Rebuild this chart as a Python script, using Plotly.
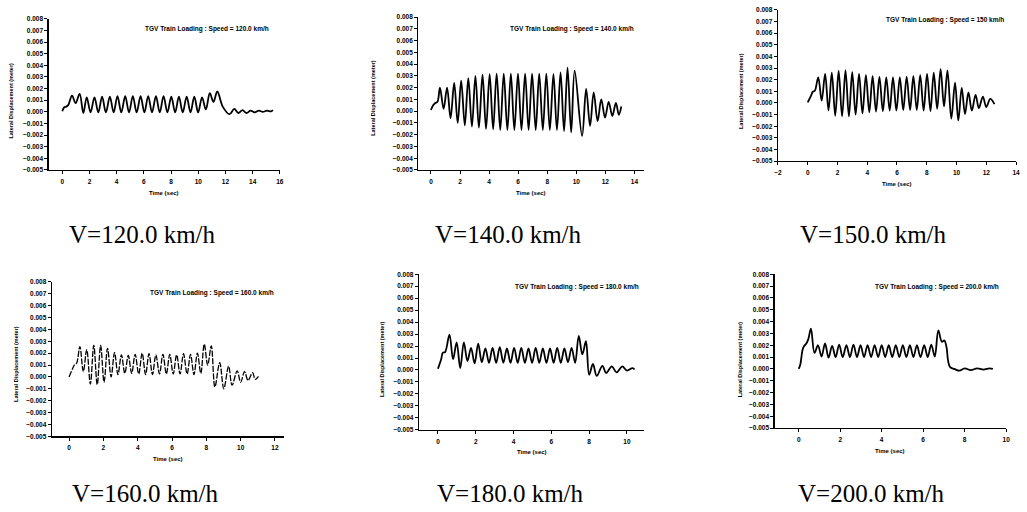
import plotly.graph_objects as go

W, H = 1027, 512

# ---------------- data (time in s, lateral displacement in mm) ----------------
t120 = [0.00, 0.15, 0.30, 0.45, 0.72, 0.98, 1.28, 1.55,
        1.80, 2.08, 2.37, 2.65, 2.93, 3.21, 3.50, 3.78, 4.06, 4.34, 4.63, 4.91,
        5.19, 5.47, 5.76, 6.04, 6.32, 6.60, 6.89, 7.17, 7.45, 7.73, 8.02, 8.30,
        8.58, 8.86, 9.15, 9.43, 9.71, 9.99, 10.28, 10.56,
        10.85, 11.12, 11.40, 11.80, 12.30, 12.65, 12.95, 13.25, 13.55, 13.85,
        14.15, 14.45, 14.75, 15.05, 15.35, 15.50]
d120 = [0.05, 0.40, 0.45, 0.60, 1.40, 0.75, 1.55, -0.10,
        1.25, -0.05, 1.25, -0.05, 1.30, -0.05, 1.30, -0.05, 1.35, -0.05, 1.35, -0.05,
        1.35, -0.05, 1.35, -0.05, 1.35, -0.05, 1.35, -0.05, 1.35, -0.05, 1.30, -0.05,
        1.30, -0.05, 1.30, -0.05, 1.30, -0.05, 1.25, 0.20,
        1.60, 0.85, 1.75, 0.45, -0.20, 0.25, -0.10, 0.15, -0.10, 0.10,
        -0.05, 0.10, 0.00, 0.10, 0.05, 0.15]

t140 = [0.00, 0.15, 0.30, 0.45,
        0.62, 0.87, 1.11, 1.35, 1.60, 1.84, 2.08, 2.33, 2.57, 2.82, 3.06, 3.30,
        3.55, 3.79, 4.04, 4.28, 4.52, 4.77, 5.01, 5.26, 5.50, 5.74, 5.99, 6.23,
        6.48, 6.72, 6.96, 7.21, 7.45, 7.70, 7.94, 8.18, 8.43, 8.67, 8.92, 9.16,
        9.40, 9.65, 9.89,
        10.40, 10.68, 10.95, 11.20, 11.47, 11.72, 11.98, 12.23, 12.48, 12.73, 12.93, 13.10]
d140 = [0.10, 0.50, 0.70, 0.80,
        2.00, 0.20, 2.00, -0.60, 2.40, -1.00, 2.60, -1.20, 2.80, -1.30, 3.00, -1.40,
        3.10, -1.50, 3.15, -1.55, 3.20, -1.60, 3.20, -1.60, 3.20, -1.60, 3.20, -1.60,
        3.20, -1.60, 3.20, -1.60, 3.20, -1.60, 3.20, -1.60, 3.15, -1.60, 3.30, -1.70,
        3.70, -1.80, 3.45,
        -2.10, 1.90, -1.25, 1.60, -0.85, 1.00, -0.55, 0.80, -0.40, 0.70, -0.30, 0.40]

t150 = [0.00, 0.22, 0.33, 0.48,
        0.71, 0.94, 1.17, 1.40, 1.62, 1.85, 2.08, 2.31, 2.54, 2.77, 2.99, 3.22,
        3.45, 3.68, 3.91, 4.14, 4.36, 4.59, 4.82, 5.05, 5.28, 5.51, 5.73, 5.96,
        6.19, 6.42, 6.65, 6.88, 7.10, 7.33, 7.56, 7.79, 8.02, 8.25, 8.47, 8.70,
        8.93, 9.16, 9.39,
        9.65, 9.90, 10.12, 10.35, 10.57, 10.80, 11.03, 11.28, 11.50, 11.77, 12.00, 12.27, 12.55]
d150 = [0.05, 0.60, 0.95, 1.05,
        2.20, 0.20, 2.50, -0.65, 2.60, -1.10, 2.75, -1.15, 2.80, -1.15, 2.65, -1.00,
        2.50, -0.90, 2.40, -0.80, 2.30, -0.75, 2.25, -0.70, 2.20, -0.65, 2.20, -0.65,
        2.20, -0.60, 2.25, -0.60, 2.30, -0.60, 2.40, -0.65, 2.50, -0.70, 2.60, -0.50,
        2.90, -0.30, 2.80,
        -1.35, 1.75, -1.50, 1.30, -0.95, 0.90, -0.65, 0.70, -0.45, 0.55, -0.35, 0.35, -0.10]

t160 = [0.00, 0.19, 0.33, 0.44,
        0.63, 0.83, 1.03, 1.24, 1.44, 1.64, 1.84, 2.04, 2.24, 2.45, 2.65, 2.85,
        3.05, 3.25, 3.45, 3.65, 3.85, 4.06, 4.26, 4.46, 4.66, 4.86, 5.06, 5.27,
        5.47, 5.67, 5.87, 6.07, 6.27, 6.47, 6.67, 6.88, 7.08, 7.28, 7.48, 7.68,
        7.88, 8.08, 8.29,
        8.50, 8.78, 9.02, 9.30, 9.50, 9.80, 10.00, 10.23, 10.43, 10.70, 10.85, 11.04]
d160 = [0.00, 0.65, 1.05, 1.15,
        2.55, 0.45, 2.30, -0.60, 2.65, -0.65, 2.65, -0.45, 2.40, 0.00, 2.05, 0.20,
        1.85, 0.30, 1.80, 0.30, 1.90, 0.25, 2.00, 0.20, 1.95, 0.20, 1.85, 0.25,
        1.90, 0.25, 1.90, 0.25, 1.85, 0.25, 1.95, 0.25, 1.90, 0.20, 2.00, 0.30,
        2.75, 1.00, 2.60,
        -0.85, 1.20, -1.00, 0.90, -0.70, 0.50, -0.45, 0.45, -0.30, 0.35, -0.20, 0.05]

t180 = [0.00, 0.17, 0.26, 0.38,
        0.61, 0.80, 0.99, 1.18, 1.37, 1.56, 1.75, 1.94, 2.13, 2.32, 2.51, 2.70,
        2.89, 3.08, 3.27, 3.46, 3.65, 3.84, 4.03, 4.22, 4.41, 4.60, 4.79, 4.98,
        5.17, 5.36, 5.55, 5.74, 5.93, 6.12, 6.31, 6.50, 6.69, 6.88, 7.07, 7.26,
        7.45, 7.64, 7.83,
        8.00, 8.20, 8.40, 8.70, 8.90, 9.20, 9.45, 9.75, 10.00, 10.28, 10.40]
d180 = [0.10, 0.90, 1.45, 1.50,
        2.95, 0.90, 2.30, 0.15, 2.30, 0.75, 1.85, 0.55, 2.20, 0.65, 1.80, 0.60,
        1.85, 0.60, 1.90, 0.60, 1.80, 0.60, 1.85, 0.60, 1.85, 0.60, 1.80, 0.60,
        1.85, 0.60, 1.80, 0.60, 1.80, 0.60, 1.85, 0.60, 1.80, 0.65, 1.85, 0.60,
        2.85, 1.30, 2.40,
        -0.40, 0.50, -0.50, 0.35, -0.25, 0.30, -0.20, 0.30, -0.05, 0.15, 0.05]

t200 = [0.00, 0.08, 0.19, 0.27, 0.35, 0.46,
        0.59, 0.76, 0.93, 1.10, 1.27, 1.44, 1.61, 1.78, 1.95, 2.12, 2.30, 2.47,
        2.64, 2.81, 2.98, 3.15, 3.32, 3.49, 3.66, 3.83, 4.00, 4.17, 4.34, 4.51,
        4.68, 4.85, 5.02, 5.19, 5.36, 5.53, 5.70, 5.87, 6.05, 6.22, 6.39, 6.56,
        6.73,
        6.90, 7.02, 7.13, 7.20, 7.30, 7.50, 7.75, 8.00, 8.30, 8.60, 8.90, 9.20, 9.36]
d200 = [0.00, 0.40, 1.65, 1.95, 2.10, 2.50,
        3.40, 1.35, 2.00, 1.05, 2.15, 0.95, 1.95, 1.00, 2.05, 1.00, 2.00, 1.00,
        2.05, 1.00, 2.00, 1.00, 2.00, 1.00, 2.00, 1.00, 2.00, 1.00, 2.00, 1.00,
        2.00, 1.00, 2.00, 1.00, 2.00, 1.00, 2.00, 1.00, 2.00, 1.00, 2.05, 1.05,
        3.25,
        2.30, 2.40, 1.80, 0.70, 0.15, 0.00, -0.15, 0.05, -0.10, 0.05, -0.05, 0.05, 0.00]

speeds = ["120.0", "140.0", "150", "160.0", "180.0", "200.0"]
subtitles = ["V=120.0 km/h", "V=140.0 km/h", "V=150.0 km/h",
             "V=160.0 km/h", "V=180.0 km/h", "V=200.0 km/h"]
series = [(t120, d120), (t140, d140), (t150, d150),
          (t160, d160), (t180, d180), (t200, d200)]
x_ranges = [[-1, 16], [-0.86, 14.66], [-2, 14], [-1, 12.5], [-1, 10.9], [-1.16, 10]]
x_tick0 = [0, 0, -2, 0, 0, 0]
y_ticks = [round(-0.005 + 0.001 * i, 3) for i in range(14)]

# ---------------- layout geometry (pixels) ----------------
boxes = [(45, 278, 15, 168.3), (417.7, 645, 13.3, 168.3), (780, 1020, 6, 159.3),
         (48.3, 281.7, 281.7, 438.3), (418.3, 645, 274, 431.7), (776.7, 1010, 274, 430)]
title_pos = [(269, 25), (637, 25), (1010, 16), (274, 293), (642, 287), (1005, 287)]
ytitle_pos = [(7, 98), (372, 95), (743, 88), (12, 365), (381, 360), (742, 360)]
sub_pos = [(140, 234), (508, 234), (876, 234), (143, 496), (510, 496), (874, 496)]


def fx(x):
    return x / W


def fy(y):
    return 1 - y / H


fig = go.Figure()
annotations = []
layout = {}
tickfont = dict(family="Liberation Sans", size=6.5, color="black", weight="bold")
labfont = dict(family="Liberation Sans", size=6, color="black", weight="bold")

for i, ((t, d), box) in enumerate(zip(series, boxes)):
    n = "" if i == 0 else str(i + 1)
    l, r, tp, bt = box
    fig.add_trace(go.Scatter(
        x=t, y=[v * 0.001 for v in d], mode="lines",
        line=dict(color="black", width=1.8 if i != 3 else 1.3, shape="spline",
                  dash="solid" if i != 3 else "6px,1.5px"),
        xaxis="x" + n, yaxis="y" + n, showlegend=False, hoverinfo="skip"))
    common = dict(showline=True, linecolor="black", linewidth=1.3, ticks="outside",
                  ticklen=3, tickwidth=1, tickcolor="black", showgrid=False,
                  zeroline=False, tickfont=tickfont, mirror=False)
    layout["xaxis" + n] = dict(common, domain=[fx(l), fx(r)], anchor="y" + n,
                               range=x_ranges[i], tick0=x_tick0[i], dtick=2,
                               ticklabelstandoff=2)
    layout["yaxis" + n] = dict(common, domain=[fy(bt), fy(tp)], anchor="x" + n,
                               range=[-0.005, 0.008], tickvals=y_ticks,
                               tickformat=".3f")
    tx, ty = title_pos[i]
    annotations.append(dict(x=fx(tx), y=fy(ty), xref="paper", yref="paper",
                            xanchor="right", yanchor="middle", showarrow=False,
                            text="TGV Train Loading : Speed = %s km/h" % speeds[i],
                            font=dict(family="Liberation Sans", size=6.5,
                                      color="black", weight="bold")))
    annotations.append(dict(x=fx((l + r) / 2), y=fy(bt + 23), xref="paper", yref="paper",
                            xanchor="center", yanchor="middle", showarrow=False,
                            text="Time (sec)", font=labfont))
    yx, yy = ytitle_pos[i]
    annotations.append(dict(x=fx(yx), y=fy(yy), xref="paper", yref="paper",
                            xanchor="center", yanchor="middle", showarrow=False,
                            textangle=-90, text="Lateral Displacement (meter)",
                            font=dict(family="Liberation Sans", size=5.5,
                                      color="black", weight="bold")))
    sx, sy = sub_pos[i]
    annotations.append(dict(x=fx(sx), y=fy(sy), xref="paper", yref="paper",
                            xanchor="center", yanchor="middle", showarrow=False,
                            text=subtitles[i],
                            font=dict(family="Liberation Serif", size=25,
                                      color="black")))

fig.update_layout(width=W, height=H, margin=dict(l=0, r=0, t=0, b=0),
                  paper_bgcolor="white", plot_bgcolor="white",
                  annotations=annotations, **layout)
fig.write_html("out.html", config={"displayModeBar": False, "staticPlot": True},
               post_script="document.body.style.margin='0';"
                           "document.body.style.overflow='hidden';")
